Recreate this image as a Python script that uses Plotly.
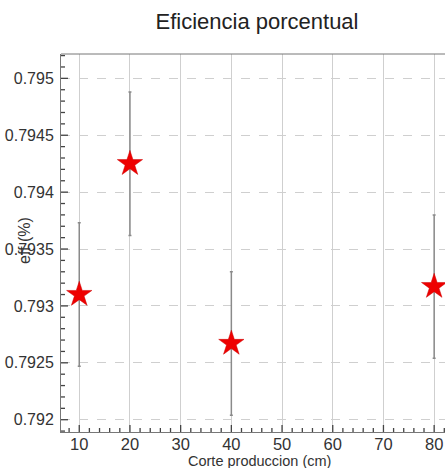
import plotly.graph_objects as go

# Eficiencia vs corte de produccion
corte_cm = [10, 20, 40, 80]
eficiencia = [0.79310, 0.79425, 0.79267, 0.79317]
error_ef = [0.00063, 0.00063, 0.00063, 0.00063]

# axis tick values
x_major = [10, 20, 30, 40, 50, 60, 70, 80]
y_major = [0.792, 0.7925, 0.793, 0.7935, 0.794, 0.7945, 0.795]
y_labels = ["0.792", "0.7925", "0.793", "0.7935", "0.794", "0.7945", "0.795"]

W, H = 445, 468
ML, MT, MB, MR = 61, 54, 36, 0
PW, PH = W - ML - MR, H - MT - MB
X_RANGE = [6.4, 82.14]
Y_RANGE = [0.791892, 0.795214]

font_family = "Liberation Sans, Arial, sans-serif"
tick_color = "#444444"
text_color = "#333333"
grid_color = "#cfcfcf"
frame_color = "#777777"

fig = go.Figure()

# inward-pointing tick marks (major at labels, minor subdivisions),
# converted from pixel lengths to axis units
dx = (X_RANGE[1] - X_RANGE[0]) / PW
dy = (Y_RANGE[1] - Y_RANGE[0]) / PH
tx, ty = [], []
for v in range(8, 83, 2):
    ln = 7 if v in x_major else 4
    tx += [v, v, None]
    ty += [Y_RANGE[0], Y_RANGE[0] + ln * dy, None]
for k in range(7919, 7953):
    v = k / 10000
    ln = 7 if k % 5 == 0 else 4
    tx += [X_RANGE[0], X_RANGE[0] + ln * dx, None]
    ty += [v, v, None]
fig.add_trace(go.Scatter(x=tx, y=ty, mode="lines",
                         line=dict(color=tick_color, width=1.3),
                         hoverinfo="skip", showlegend=False, cliponaxis=False))

fig.add_trace(go.Scatter(
    x=corte_cm,
    y=eficiencia,
    mode="markers",
    marker=dict(symbol="star", size=19, color="#ee0000",
                line=dict(color="#cc0000", width=0.5)),
    error_y=dict(type="data", array=error_ef, visible=True,
                 color="#8a8a8a", thickness=1.5, width=1.5),
    showlegend=False,
))

fig.update_layout(
    width=W, height=H,
    margin=dict(l=ML, r=MR, t=MT, b=MB),
    paper_bgcolor="white",
    plot_bgcolor="white",
    font=dict(family=font_family, color=text_color, size=16),
    title=dict(text="Eficiencia porcentual", x=257 / W, xanchor="center",
               xref="container", y=1 - 21 / H, yanchor="middle",
               yref="container",
               font=dict(size=22, color="#222222", family=font_family)),
)
fig.update_xaxes(
    range=X_RANGE,
    tickmode="array", tickvals=x_major,
    ticks="",
    showline=True, linecolor=frame_color, linewidth=1,
    showgrid=True, gridcolor=grid_color, gridwidth=1,
    zeroline=False,
    tickfont=dict(size=16.5, color=text_color),
    ticklabelstandoff=-3,
)
fig.update_yaxes(
    range=Y_RANGE,
    tickmode="array", tickvals=y_major, ticktext=y_labels,
    ticks="",
    showline=True, linecolor=frame_color, linewidth=1,
    showgrid=True, gridcolor=grid_color, gridwidth=1, griddash="dash",
    zeroline=False,
    tickfont=dict(size=16, color=text_color),
    ticklabelstandoff=3,
)

# top border of the frame
fig.add_shape(type="line", xref="paper", yref="paper", x0=0, x1=1, y0=1, y1=1,
              line=dict(color=frame_color, width=1))

# axis titles
fig.add_annotation(text="Corte produccion (cm)", xref="paper", yref="paper",
                   x=(259 - ML) / PW, y=-(461 - (H - MB)) / PH,
                   xanchor="center", yanchor="middle", showarrow=False,
                   font=dict(size=14.5, color=text_color, family=font_family))
fig.add_annotation(text="eff (%)", xref="paper", yref="paper",
                   x=-(ML - 25) / PW, y=(H - MB - 241) / PH,
                   xanchor="center", yanchor="middle", textangle=-90, showarrow=False,
                   font=dict(size=16, color=text_color, family=font_family))

fig.write_html("out.html")
